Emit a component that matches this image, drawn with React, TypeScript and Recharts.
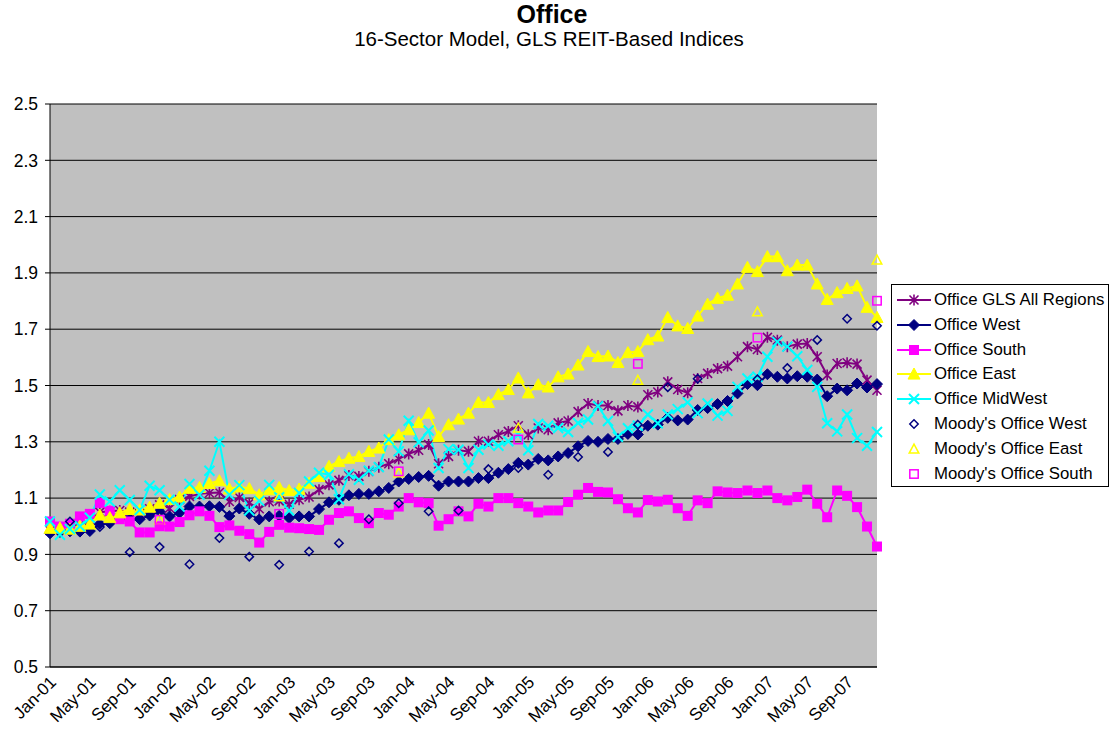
import { CartesianGrid, Line, LineChart, XAxis, YAxis } from "recharts";

const months = ["Jan", "Feb", "Mar", "Apr", "May", "Jun", "Jul", "Aug", "Sep", "Oct", "Nov", "Dec"];
const years = ["01", "02", "03", "04", "05", "06", "07"];
const categories = years.flatMap((y) => months.map((m) => `${m}-${y}`));

const yTicks = [0.5, 0.7, 0.9, 1.1, 1.3, 1.5, 1.7, 1.9, 2.1, 2.3, 2.5];

// monthly index values, Jan-01 .. Dec-07
const allRegions = [
  0.985, 0.99, 1.0, 1.005, 1.02, 1.05, 1.053, 1.056, 1.05, 1.045, 1.062, 1.076,
  1.064, 1.095, 1.106, 1.115, 1.118, 1.12, 1.088, 1.102, 1.082, 1.062, 1.087, 1.09,
  1.078, 1.094, 1.104, 1.13, 1.147, 1.163, 1.18, 1.177, 1.195, 1.21, 1.222, 1.239,
  1.257, 1.27, 1.29, 1.222, 1.248, 1.27, 1.266, 1.302, 1.302, 1.325, 1.337, 1.357,
  1.325, 1.349, 1.343, 1.367, 1.374, 1.407, 1.436, 1.429, 1.429, 1.41, 1.429, 1.424,
  1.467, 1.477, 1.513, 1.486, 1.474, 1.525, 1.543, 1.56, 1.569, 1.602, 1.638, 1.628,
  1.671, 1.661, 1.638, 1.647, 1.649, 1.602, 1.537, 1.578, 1.581, 1.576, 1.519, 1.483,
];
const west = [
  0.975, 0.98, 0.982, 0.981, 0.983, 1.008, 1.011, 1.03, 1.025, 1.025, 1.038, 1.052,
  1.035, 1.048, 1.07, 1.07, 1.071, 1.069, 1.036, 1.063, 1.044, 1.024, 1.035, 1.037,
  1.029, 1.035, 1.035, 1.061, 1.085, 1.094, 1.11, 1.115, 1.115, 1.124, 1.136, 1.159,
  1.168, 1.175, 1.179, 1.144, 1.159, 1.159, 1.159, 1.171, 1.171, 1.19, 1.203, 1.225,
  1.219, 1.239, 1.234, 1.248, 1.26, 1.284, 1.303, 1.3, 1.31, 1.31, 1.328, 1.326,
  1.357, 1.361, 1.385, 1.376, 1.379, 1.413, 1.42, 1.434, 1.445, 1.472, 1.505, 1.501,
  1.54, 1.531, 1.525, 1.533, 1.531, 1.521, 1.462, 1.489, 1.483, 1.507, 1.493, 1.505,
];
const south = [
  1.017, 0.999, 1.009, 1.035, 1.044, 1.083, 1.055, 1.025, 1.017, 0.978, 0.978, 1.0,
  0.999, 1.015, 1.039, 1.053, 1.037, 0.997, 1.003, 0.984, 0.972, 0.942, 0.98, 1.005,
  0.995, 0.993, 0.99, 0.987, 1.023, 1.047, 1.053, 1.029, 1.011, 1.047, 1.041, 1.07,
  1.1, 1.085, 1.082, 1.002, 1.025, 1.053, 1.035, 1.08, 1.07, 1.1, 1.1, 1.082,
  1.07, 1.049, 1.056, 1.056, 1.086, 1.112, 1.136, 1.122, 1.12, 1.096, 1.064, 1.049,
  1.093, 1.088, 1.094, 1.064, 1.037, 1.092, 1.082, 1.124, 1.12, 1.118, 1.127, 1.118,
  1.127, 1.1, 1.092, 1.104, 1.13, 1.08, 1.032, 1.127, 1.108, 1.068, 0.999, 0.928,
];
const east = [
  0.993, 0.994, 0.99, 1.0, 1.008, 1.04, 1.031, 1.048, 1.06, 1.058, 1.068, 1.082,
  1.095, 1.104, 1.135, 1.138, 1.152, 1.162, 1.133, 1.14, 1.134, 1.112, 1.13, 1.138,
  1.127, 1.132, 1.153, 1.177, 1.213, 1.23, 1.242, 1.248, 1.266, 1.278, 1.308, 1.325,
  1.343, 1.369, 1.402, 1.319, 1.361, 1.381, 1.402, 1.44, 1.44, 1.468, 1.486, 1.527,
  1.474, 1.503, 1.495, 1.531, 1.541, 1.573, 1.621, 1.603, 1.605, 1.582, 1.617, 1.621,
  1.663, 1.676, 1.742, 1.712, 1.703, 1.747, 1.789, 1.81, 1.821, 1.861, 1.92, 1.905,
  1.958, 1.958, 1.908, 1.928, 1.928, 1.861, 1.806, 1.83, 1.845, 1.854, 1.778, 1.742,
];
const midWest = [
  1.017, 0.97, 0.99, 1.0, 1.03, 1.113, 1.088, 1.128, 1.093, 1.058, 1.144, 1.128,
  1.094, 1.07, 1.15, 1.112, 1.197, 1.3, 1.112, 1.146, 1.056, 1.09, 1.147, 1.103,
  1.056, 1.118, 1.159, 1.19, 1.183, 1.096, 1.185, 1.165, 1.197, 1.21, 1.308, 1.266,
  1.375, 1.298, 1.34, 1.207, 1.274, 1.272, 1.207, 1.272, 1.29, 1.286, 1.302, 1.325,
  1.27, 1.363, 1.357, 1.349, 1.335, 1.367, 1.379, 1.426, 1.374, 1.318, 1.348, 1.357,
  1.397, 1.366, 1.397, 1.416, 1.44, 1.402, 1.436, 1.393, 1.41, 1.495, 1.525, 1.531,
  1.602, 1.655, 1.638, 1.604, 1.555, 1.495, 1.366, 1.337, 1.397, 1.313, 1.286, 1.335,
];

// Moody's: quarter ends from Mar-01, and December of each year
const moodysWest = [
  1.017, 0.997, 0.908, 0.926, 0.865, 0.958, 0.892, 0.863, 0.91, 0.94, 1.025, 1.082,
  1.053, 1.056, 1.203, 1.207, 1.183, 1.246, 1.264, 1.361, 1.494, 1.524, 1.445, 1.522,
  1.562, 1.662, 1.737, 1.712,
];
const moodysEast = [1.023, 1.105, 1.19, 1.349, 1.519, 1.762, 1.946];
const moodysSouth = [1.023, 1.044, 1.195, 1.308, 1.577, 1.67, 1.801];

const data = categories.map((month, i) => ({
  month,
  allRegions: allRegions[i],
  west: west[i],
  south: south[i],
  east: east[i],
  midWest: midWest[i],
  mWest: i % 3 === 2 ? moodysWest[(i - 2) / 3] : null,
  mEast: i % 12 === 11 ? moodysEast[(i - 11) / 12] : null,
  mSouth: i % 12 === 11 ? moodysSouth[(i - 11) / 12] : null,
}));

const FONT = '"Liberation Sans", Arial, sans-serif';

type Shape = "star" | "diamond" | "square" | "triangle" | "x";

function Marker({ shape, x, y, color, hollow }: { shape: Shape; x: number; y: number; color: string; hollow?: boolean }) {
  if (shape === "diamond") {
    const h = hollow ? 4.2 : 5.5;
    return (
      <polygon
        points={`${x},${y - h} ${x + h},${y} ${x},${y + h} ${x - h},${y}`}
        fill={hollow ? "none" : color}
        stroke={color}
        strokeWidth={hollow ? 1.5 : 1}
      />
    );
  }
  if (shape === "square") {
    const h = hollow ? 4.2 : 5;
    return (
      <rect x={x - h} y={y - h} width={h * 2} height={h * 2} fill={hollow ? "none" : color} stroke={color} strokeWidth={hollow ? 1.5 : 0} />
    );
  }
  if (shape === "triangle") {
    const h = hollow ? 4.8 : 6;
    return (
      <polygon
        points={`${x},${y - h} ${x + h},${y + h * 0.85} ${x - h},${y + h * 0.85}`}
        fill={hollow ? "none" : color}
        stroke={color}
        strokeWidth={hollow ? 1.5 : 1}
      />
    );
  }
  if (shape === "x") {
    return <path d={`M${x - 5},${y - 5}L${x + 5},${y + 5}M${x + 5},${y - 5}L${x - 5},${y + 5}`} stroke={color} strokeWidth={2} />;
  }
  return (
    <path
      d={`M${x - 4.5},${y - 4.5}L${x + 4.5},${y + 4.5}M${x + 4.5},${y - 4.5}L${x - 4.5},${y + 4.5}M${x},${y - 5.5}L${x},${y + 5.5}`}
      stroke={color}
      strokeWidth={1.6}
    />
  );
}

const dotOf = (shape: Shape, color: string, hollow?: boolean) => (p: any) => {
  const key = `${shape}-${hollow ? "h" : "f"}-${p.index}`;
  if (p.cx == null || p.cy == null || Number.isNaN(p.cy) || p.value == null) return <g key={key} />;
  return (
    <g key={key}>
      <Marker shape={shape} x={p.cx} y={p.cy} color={color} hollow={hollow} />
    </g>
  );
};

const series = [
  { key: "allRegions", name: "Office GLS All Regions", color: "#800080", shape: "star" as Shape },
  { key: "west", name: "Office West", color: "#000080", shape: "diamond" as Shape },
  { key: "south", name: "Office South", color: "#FF00FF", shape: "square" as Shape },
  { key: "east", name: "Office East", color: "#FFFF00", shape: "triangle" as Shape },
  { key: "midWest", name: "Office MidWest", color: "#00FFFF", shape: "x" as Shape },
];
const moodys = [
  { key: "mWest", name: "Moody's Office West", color: "#000080", shape: "diamond" as Shape },
  { key: "mEast", name: "Moody's Office East", color: "#FFFF00", shape: "triangle" as Shape },
  { key: "mSouth", name: "Moody's Office South", color: "#FF00FF", shape: "square" as Shape },
];

const MonthTick = ({ x, y, payload }: any) => (
  <text
    x={x + 3}
    y={y + 4}
    transform={`rotate(-45 ${x + 3} ${y + 4})`}
    textAnchor="end"
    dy="0.35em"
    fontSize={17}
    fontFamily={FONT}
    fill="#000"
  >
    {payload.value}
  </text>
);

function LegendBox() {
  const rows = [...series.map((s) => ({ ...s, line: true })), ...moodys.map((s) => ({ ...s, line: false }))];
  return (
    <div
      style={{
        position: "absolute",
        left: 891,
        top: 284,
        width: 216,
        height: 201,
        border: "1px solid #000",
        background: "#fff",
        fontFamily: FONT,
        fontSize: 16.8,
      }}
    >
      {rows.map((r, i) => (
        <div key={r.key} style={{ position: "absolute", left: 0, top: 3 + i * 24.8, height: 24, display: "flex", alignItems: "center" }}>
          <svg width={42} height={24} style={{ display: "block" }}>
            {r.line && <line x1={5} x2={39} y1={12} y2={12} stroke={r.color} strokeWidth={2} />}
            <Marker shape={r.shape} x={22} y={12} color={r.color} hollow={!r.line} />
          </svg>
          <span style={{ whiteSpace: "nowrap", color: "#000" }}>{r.name}</span>
        </div>
      ))}
    </div>
  );
}

export default function App() {
  return (
    <div style={{ position: "absolute", left: 0, top: 0, width: 1111, height: 740, background: "#fff" }}>
      <svg width={1111} height={60} style={{ position: "absolute", left: 0, top: 0 }}>
        <text x={552} y={23} textAnchor="middle" fontFamily={FONT} fontSize={25} fontWeight="bold" fill="#000">
          Office
        </text>
        <text x={549} y={46} textAnchor="middle" fontFamily={FONT} fontSize={20.5} fill="#000">
          16-Sector Model, GLS REIT-Based Indices
        </text>
      </svg>
      <div style={{ position: "absolute", left: 0, top: 0 }}>
        <LineChart width={1111} height={740} data={data} margin={{ top: 104, right: 234, bottom: 0, left: 0 }}>
          <CartesianGrid vertical={false} stroke="#000" strokeWidth={1} fill="#C0C0C0" fillOpacity={1} />
          <XAxis
            dataKey="month"
            interval={3}
            height={73}
            tick={<MonthTick />}
            tickLine={false}
            axisLine={{ stroke: "#000" }}
          />
          <YAxis
            domain={[0.5, 2.5]}
            ticks={yTicks}
            width={50}
            tickFormatter={(v: number) => v.toFixed(1)}
            tick={{ fontSize: 17.5, fontFamily: FONT, fill: "#000" }}
            tickSize={5}
            tickMargin={7}
            tickLine={{ stroke: "#000" }}
            axisLine={{ stroke: "#000" }}
          />
          <YAxis yAxisId="frame" orientation="right" width={0} tick={false} tickLine={false} axisLine={{ stroke: "#808080", strokeWidth: 2 }} />
          {series.map((s) => (
            <Line
              key={s.key}
              dataKey={s.key}
              name={s.name}
              type="linear"
              stroke={s.color}
              strokeWidth={2}
              dot={dotOf(s.shape, s.color)}
              activeDot={false}
              isAnimationActive={false}
            />
          ))}
          {moodys.map((s) => (
            <Line
              key={s.key}
              dataKey={s.key}
              name={s.name}
              type="linear"
              stroke="none"
              connectNulls={false}
              dot={dotOf(s.shape, s.color, true)}
              activeDot={false}
              isAnimationActive={false}
            />
          ))}
        </LineChart>
      </div>
      <LegendBox />
    </div>
  );
}
